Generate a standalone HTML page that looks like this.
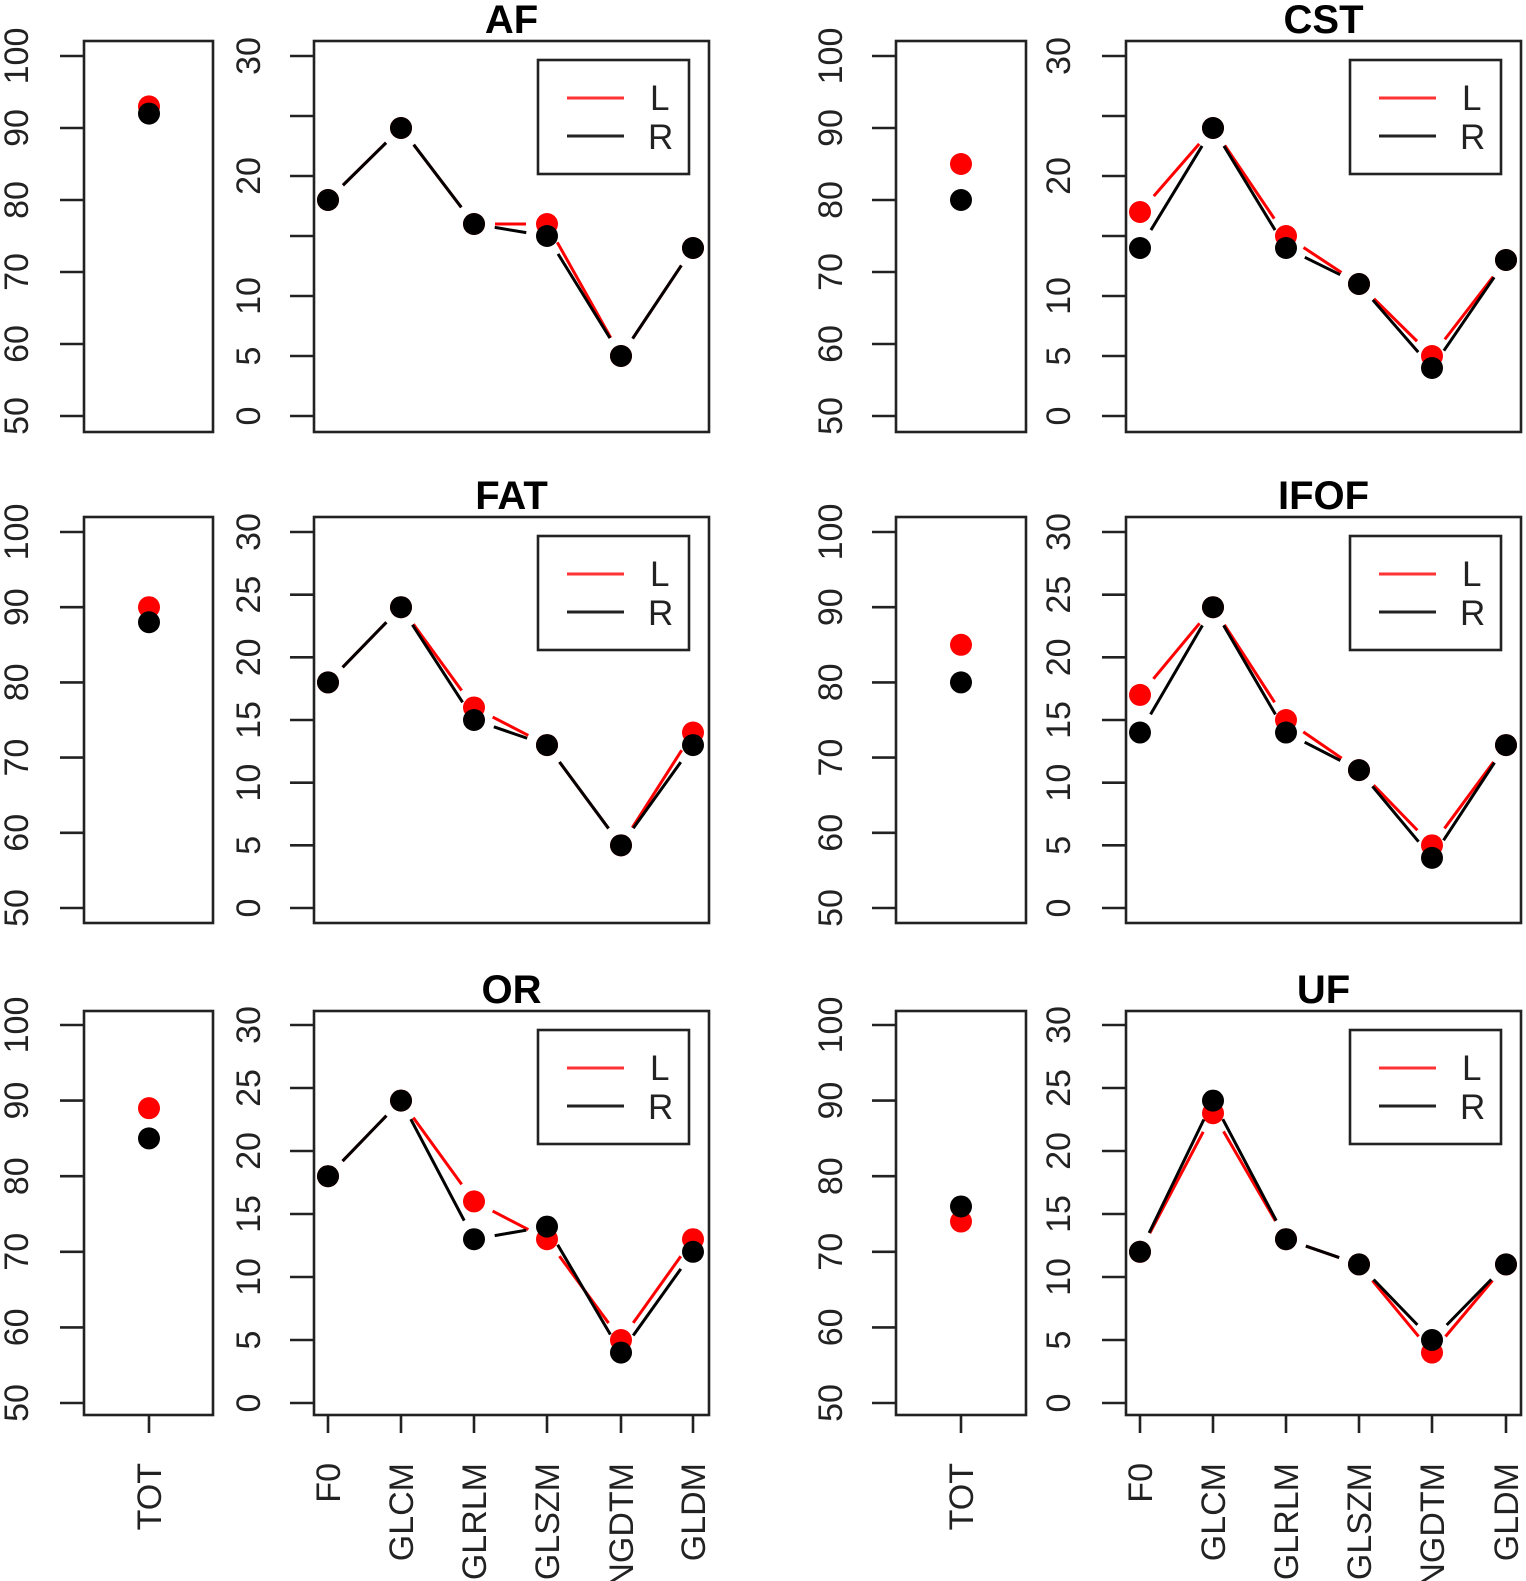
<!DOCTYPE html>
<html><head><meta charset="utf-8">
<style>html,body{margin:0;padding:0;background:#fff}svg{display:block}</style>
</head><body>
<svg id="s" xmlns="http://www.w3.org/2000/svg" width="1526" height="1581" viewBox="0 0 1526 1581" font-family="Liberation Sans, sans-serif"></svg>
<script>
const S=document.getElementById('s');let h='';
const rows=[{bt:41,bb:432,y0:416,y1:56},{bt:517,bb:923,y0:908,y1:532},{bt:1011,bb:1415,y0:1403,y1:1025}];
const cols=[{tl:84,tr:213,tx:149,tlab:16,ml:314,mr:709,mx:[328,401,474,547,621,693],mlab:248},
            {tl:896,tr:1026,tx:961,tlab:830,ml:1126,mr:1521,mx:[1140,1213,1286,1359,1432,1506],mlab:1058}];
const D=[
 ["AF",93,92,[18,24,16,16,5,14],[18,24,16,15,5,14]],
 ["CST",85,80,[17,24,15,11,5,13],[14,24,14,11,4,13]],
 ["FAT",90,88,[18,24,16,13,5,14],[18,24,15,13,5,13]],
 ["IFOF",85,80,[17,24,15,11,5,13],[14,24,14,11,4,13]],
 ["OR",89,85,[18,24,16,13,5,13],[18,24,13,14,4,12]],
 ["UF",74,76,[12,23,13,11,4,11],[12,24,13,11,5,11]]];
const names=["F0","GLCM","GLRLM","GLSZM","NGDTM","GLDM"];
function seg(x1,y1,x2,y2,c){const dx=x2-x1,dy=y2-y1,L=Math.hypot(dx,dy),g=21;if(L<2*g+2)return'';
 const ux=dx/L,uy=dy/L;return `<line x1="${x1+ux*g}" y1="${y1+uy*g}" x2="${x2-ux*g}" y2="${y2-uy*g}" stroke="${c}" stroke-width="3"/>`;}
function vt(x,y,t,anchor,fs){return `<text transform="translate(${x},${y}) rotate(-90)" text-anchor="${anchor}" font-size="${fs}" fill="#222">${t}</text>`;}
D.forEach((d,i)=>{const r=rows[Math.floor(i/2)],c=cols[i%2];
 const ty=v=>r.y0+(v-50)/50*(r.y1-r.y0), my=v=>r.y0+v/30*(r.y1-r.y0);
 h+=`<rect x="${c.tl}" y="${r.bt}" width="${c.tr-c.tl}" height="${r.bb-r.bt}" fill="none" stroke="#222" stroke-width="2.6"/>`;
 for(let v=50;v<=100;v+=10){const y=ty(v);h+=`<line x1="${c.tl-24}" y1="${y}" x2="${c.tl}" y2="${y}" stroke="#222" stroke-width="2.6"/>`;h+=vt(c.tlab+12,y,v,'middle',34);}
 h+=`<circle cx="${c.tx}" cy="${ty(d[1])}" r="11" fill="#f00"/><circle cx="${c.tx}" cy="${ty(d[2])}" r="11" fill="#000"/>`;
 h+=`<rect x="${c.ml}" y="${r.bt}" width="${c.mr-c.ml}" height="${r.bb-r.bt}" fill="none" stroke="#222" stroke-width="2.6"/>`;
 for(let v=0;v<=30;v+=5){const y=my(v);h+=`<line x1="${c.ml-24}" y1="${y}" x2="${c.ml}" y2="${y}" stroke="#222" stroke-width="2.6"/>`;
  if(i>=2||v%10==0||v==5)h+=vt(c.mlab+12,y,v,'middle',34);}
 h+=`<text x="${(c.ml+c.mr)/2}" y="${r.bt-8}" text-anchor="middle" font-size="40" font-weight="bold">${d[0]}</text>`;
 [[d[3],'#f00'],[d[4],'#000']].forEach(([a,col])=>{
  for(let k=0;k<5;k++)h+=seg(c.mx[k],my(a[k]),c.mx[k+1],my(a[k+1]),col);
  a.forEach((v,k)=>h+=`<circle cx="${c.mx[k]}" cy="${my(v)}" r="11" fill="${col}"/>`);});
 const lx=c.mr-171,ly=r.bt+19;
 h+=`<rect x="${lx}" y="${ly}" width="151" height="114" fill="#fff" stroke="#222" stroke-width="2.6"/>`;
 h+=`<line x1="${lx+29}" y1="${ly+38}" x2="${lx+86}" y2="${ly+38}" stroke="#f33" stroke-width="3"/><line x1="${lx+29}" y1="${ly+76}" x2="${lx+86}" y2="${ly+76}" stroke="#222" stroke-width="3"/>`;
 h+=`<text x="${lx+112}" y="${ly+50}" font-size="35" fill="#222">L</text><text x="${lx+110}" y="${ly+89}" font-size="35" fill="#222">R</text>`;
 if(i>=4){
  h+=`<line x1="${c.tx}" y1="${r.bb}" x2="${c.tx}" y2="${r.bb+18}" stroke="#222" stroke-width="2.6"/>`+vt(c.tx+12,1463,'TOT','end',34);
  c.mx.forEach((x,k)=>{h+=`<line x1="${x}" y1="${r.bb}" x2="${x}" y2="${r.bb+18}" stroke="#222" stroke-width="2.6"/>`+vt(x+12,1463,names[k],'end',34);});
 }
});
S.innerHTML=h;
</script>
</body></html>
